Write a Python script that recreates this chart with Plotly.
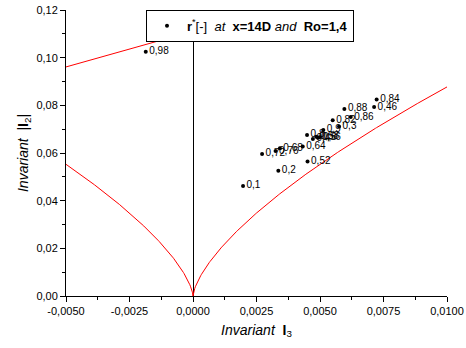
import numpy as np
import plotly.graph_objects as go

# Measured points: invariant I3 (x), |I2| (y), and point labels
i3_vals = [-0.00186, 0.00197, 0.00336, 0.00451, 0.00432, 0.00272, 0.00325, 0.00342,
           0.00449, 0.00472, 0.00485, 0.00492, 0.00498, 0.00513, 0.00550, 0.00575,
           0.00596, 0.00621, 0.00723, 0.00713]
i2_vals = [0.1025, 0.0462, 0.0526, 0.0564, 0.0627, 0.0596, 0.0608, 0.0620,
           0.0676, 0.0659, 0.0668, 0.0664, 0.0666, 0.0697, 0.0737, 0.0711,
           0.0785, 0.0751, 0.0824, 0.0793]
labels = ["0,98", "0,1", "0,2", "0,52", "0,64", "0,72", "0,76", "0,68",
          "0,8", "0,4", "0,58", "0,56", "0,6", "0,9", "0,82", "0,3",
          "0,88", "0,86", "0,84", "0,46"]

x_ticks = [-0.005, -0.0025, 0.0, 0.0025, 0.005, 0.0075, 0.01]
x_ticktext = ["-0,0050", "-0,0025", "0,0000", "0,0025", "0,0050", "0,0075", "0,0100"]
y_ticks = [0.0, 0.02, 0.04, 0.06, 0.08, 0.10, 0.12]
y_ticktext = ["0,00", "0,02", "0,04", "0,06", "0,08", "0,10", "0,12"]

# Lumley triangle boundaries (theoretical limits)
x_left = np.linspace(-0.005, 0.0, 200)
y_left = 3 * (np.abs(x_left) / 2) ** (2 / 3)
x_right = np.linspace(0.0, 0.01, 300)
y_right = 3 * (x_right / 2) ** (2 / 3)
x_top = np.linspace(-0.005, 0.01, 50)
y_top = 1 / 9 + 3 * x_top

fig = go.Figure()
for xs, ys in [(x_left, y_left), (x_right, y_right), (x_top, y_top)]:
    fig.add_trace(go.Scatter(x=xs, y=ys, mode="lines", line=dict(color="red", width=1),
                             showlegend=False, hoverinfo="skip"))

fig.add_trace(go.Scatter(
    x=i3_vals, y=i2_vals, mode="markers+text", text=labels,
    textposition="middle right",
    textfont=dict(family="Arial, Liberation Sans", size=10, color="black"),
    marker=dict(color="black", size=4, symbol="circle"),
    name="<b>r</b><sup>*</sup>[-]  <i>at</i>  <b>x=14D</b> <i>and</i>  <b>Ro=1,4</b>",
    showlegend=True,
))

fig.update_layout(
    width=466, height=348,
    margin=dict(l=66, r=19, t=10, b=52, autoexpand=False),
    paper_bgcolor="white", plot_bgcolor="white",
    font=dict(family="Arial, Liberation Sans", size=11, color="black"),
    legend=dict(x=0.21, y=0.945, xanchor="left", yanchor="middle",
                bgcolor="white", bordercolor="black", borderwidth=1,
                font=dict(size=13), itemsizing="trace", itemwidth=30,
                tracegroupgap=0),
    xaxis=dict(range=[-0.005, 0.01], tickvals=x_ticks, ticktext=x_ticktext,
               showgrid=False, showline=True, linecolor="black", linewidth=1,
               ticks="outside", ticklen=5, tickcolor="black",
               minor=dict(ticks="outside", ticklen=3, dtick=0.00125, tickcolor="black"),
               zeroline=True, zerolinecolor="black", zerolinewidth=1,
               title=dict(text="<i>Invariant</i>  <b>I</b><sub>3</sub>", font=dict(size=14), standoff=8)),
    yaxis=dict(range=[0, 0.12], tickvals=y_ticks, ticktext=y_ticktext,
               showgrid=False, showline=True, linecolor="black", linewidth=1,
               ticks="outside", ticklen=5, tickcolor="black",
               minor=dict(ticks="outside", ticklen=3, dtick=0.01, tickcolor="black"),
               zeroline=False,
               title=dict(text="<i>Invariant</i>  |<b>I</b><sub>2</sub>|", font=dict(size=14), standoff=4)),
)

fig.write_html("out.html", config={"displayModeBar": False},
               post_script="document.body.style.margin='0';")
